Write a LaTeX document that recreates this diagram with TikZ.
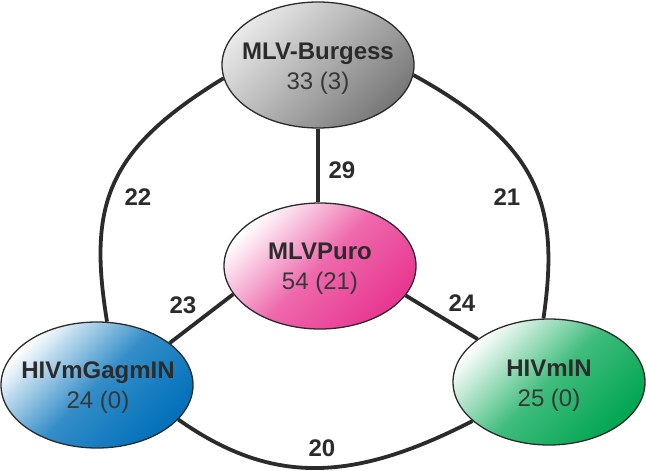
\documentclass[tikz,border=0pt]{standalone}
\usepackage{fontspec}
\setmainfont{Liberation Sans}
\usetikzlibrary{shapes.geometric,backgrounds}
\definecolor{ink}{RGB}{43,43,43}
\definecolor{txt}{RGB}{55,55,55}
\definecolor{pinkc}{RGB}{232,54,144}
\definecolor{bluec}{RGB}{0,112,186}
\definecolor{greenc}{RGB}{0,166,81}
\definecolor{grayl}{RGB}{232,232,232}
\definecolor{grayd}{RGB}{120,120,120}
\begin{document}
\begin{tikzpicture}[x=1pt,y=-1pt,
  blob/.style={ellipse, draw=ink, line width=1.3pt, minimum width=192pt, minimum height=126pt, inner sep=0pt},
  link/.style={draw=ink, line width=3.8pt},
  lbl/.style={align=center, text=txt, font=\fontsize{24}{30}\selectfont, inner sep=0pt},
  num/.style={text=ink, font=\bfseries\fontsize{24}{28}\selectfont, inner sep=0pt}]
\useasboundingbox (0,0) rectangle (646,471);
\node[blob, top color=grayl, bottom color=grayd, shading angle=45] (b) at (318,65) {};
\node[blob, top color=white, bottom color=pinkc, middle color=pinkc!75, shading angle=45] (p) at (320,266) {};
\node[blob, top color=white, bottom color=bluec, middle color=bluec!80, shading angle=45] (g) at (97,385) {};
\node[blob, top color=white, bottom color=greenc, middle color=greenc!75, shading angle=45] (h) at (549,382) {};
\node[lbl] (bt) at (318,69) {\textbf{\color{ink}MLV-Burgess}\\33 (3)};
\node[lbl] (pt) at (320,269) {\textbf{\color{ink}MLVPuro}\\54 (21)};
\node[lbl] (gt) at (98,388) {\textbf{\color{ink}HIVmGagmIN}\\24 (0)};
\node[lbl] (ht) at (549,386) {\textbf{\color{ink}HIVmIN}\\25 (0)};
\begin{scope}[on background layer]
\draw[link] (b.188) .. controls (106,150) and (88,205) .. (g.81);
\draw[link] (b.354) .. controls (540,145) and (560,205) .. (h.95);
\draw[link] (g.337) .. controls (270,484) and (350,484) .. (h.207);
\draw[link] (b.south) -- (b.south |- p.north);
\draw[link] (p.198) -- (g.30);
\draw[link] (p.341) -- (h.149);
\end{scope}
\node[num] (l22) at (138,197) {22};
\node[num] (l21) at (507,197) {21};
\node[num] (l20) at (322,448) {20};
\node[num] (l29) at (342,170) {29};
\node[num] (l23) at (183,305) {23};
\node[num] (l24) at (462,303) {24};
\end{tikzpicture}
\end{document}
